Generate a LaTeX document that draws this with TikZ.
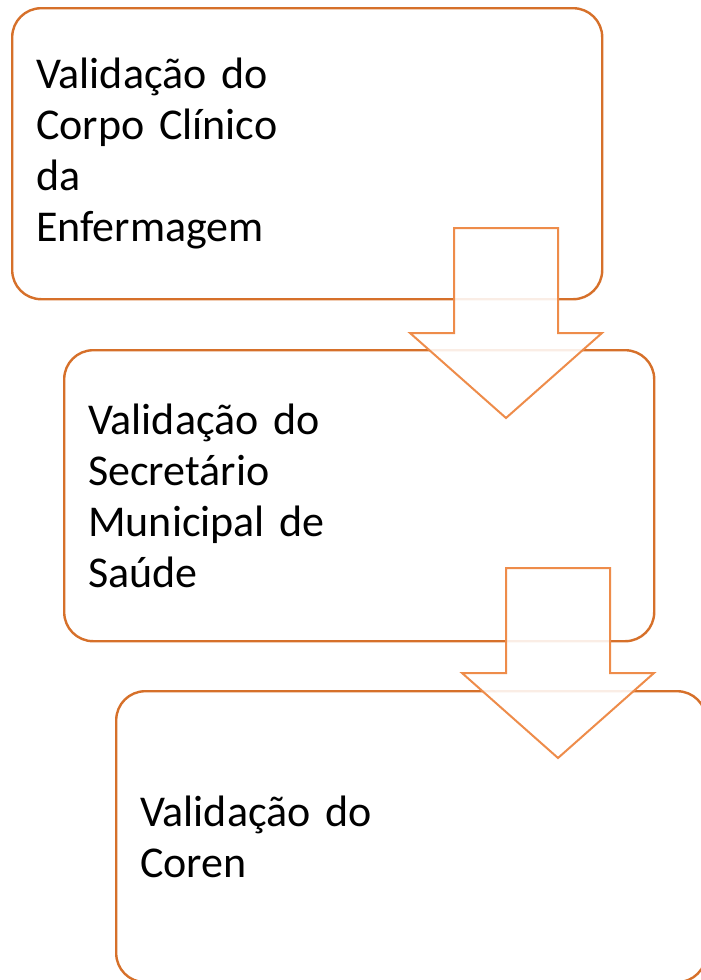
\documentclass[tikz,border=0pt]{standalone}
\usepackage{fontspec}
\setmainfont{Carlito}
\definecolor{boxline}{RGB}{214,112,42}
\definecolor{arrline}{RGB}{238,140,74}
\begin{document}
\begin{tikzpicture}[x=1pt,y=-1pt,
  stagebox/.style={draw=boxline,line width=2.4pt,rounded corners=29pt,fill=white,
    minimum width=590pt,minimum height=291pt,text width=542pt,align=left,
    inner xsep=24pt,inner ysep=0pt,font=\fontsize{44}{51}\selectfont,anchor=north west},
  downarrow/.style={draw=arrline,line width=2pt,fill=white,fill opacity=0.88,line join=miter}]
\useasboundingbox (0,0) rectangle (701,980);
\clip (0,0) rectangle (701,980);
\node[stagebox] (b1) at (11,7) {Validação do\\Corpo Clínico\\da\\Enfermagem};
\node[stagebox] (b2) at (63,349) {Validação do\\Secretário\\Municipal de\\Saúde};
\node[stagebox] (b3) at (115,690) {Validação do\\Coren};
\draw[downarrow] (454,228) -- (558,228) -- (558,333) -- (602,333) -- (506,418) -- (410,333) -- (454,333) -- cycle;
\draw[downarrow] (506,568) -- (610,568) -- (610,673) -- (654,673) -- (558,758) -- (462,673) -- (506,673) -- cycle;
\end{tikzpicture}
\end{document}
